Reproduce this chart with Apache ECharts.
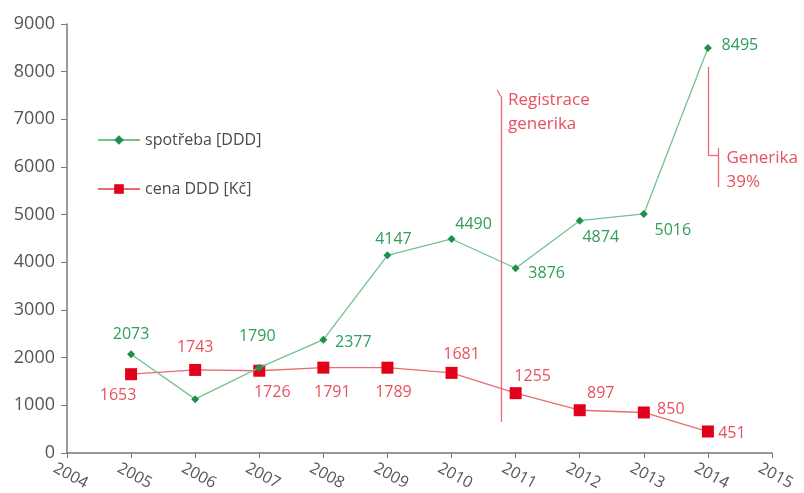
<!DOCTYPE html>
<html>
<head>
<meta charset="utf-8">
<script src="https://cdn.jsdelivr.net/npm/echarts@6/dist/echarts.min.js"></script>
<style>
  html, body { margin: 0; padding: 0; background: #fff; }
  #chart { width: 804px; height: 493px; }
</style>
</head>
<body>
<div id="chart"></div>
<script>
// roky a hodnoty
const years = [2005, 2006, 2007, 2008, 2009, 2010, 2011, 2012, 2013, 2014];
const spotreba = [2073, 1130, 1790, 2377, 4147, 4490, 3876, 4874, 5016, 8495];
const cena = [1653, 1743, 1726, 1791, 1789, 1681, 1255, 897, 850, 451];
// popisky u bodů (null = bez popisku)
const spotrebaLabels = ["2073", null, "1790", "2377", "4147", "4490", "3876", "4874", "5016", "8495"];
const cenaLabels = ["1653", "1743", "1726", "1791", "1789", "1681", "1255", "897", "850", "451"];

// posun popisků [dx, dy] od bodu
const greenOffsets = [[0, -20], [0, 0], [-2, -31], [30, 3], [6, -16], [22, -15], [31, 5], [21, 17], [29, 17], [32, -3]];
const redOffsets = [[-13, 21], [0, -22], [13, 22], [9, 25], [6, 25], [10, -18], [17, -17], [21, -17], [27, -3], [24, 2]];

const GREEN = "#2f9e5a";
const GREEN_LINE = "#74c28e";
const RED = "#e2001a";
const RED_LINE = "#ea6b73";
const RED_TEXT = "#e8505e";

const myChart = echarts.init(document.getElementById("chart"));

const greenData = years.map((y, i) => ({
  value: [y, spotreba[i]],
  label: {
    show: spotrebaLabels[i] !== null,
    formatter: spotrebaLabels[i] || "",
    offset: greenOffsets[i],
  },
}));
const redData = years.map((y, i) => ({
  value: [y, cena[i]],
  label: {
    show: true,
    formatter: cenaLabels[i],
    offset: redOffsets[i],
  },
}));

const annLine = { color: RED_LINE, width: 1.3, type: "solid" };

myChart.setOption({
  animation: false,
  textStyle: { fontFamily: "Open Sans" },
  grid: { left: 67, right: 32, top: 24, bottom: 40 },
  legend: {
    orient: "vertical",
    left: 92,
    top: 127,
    itemGap: 33,
    itemWidth: 42,
    itemHeight: 12,
    textStyle: { fontSize: 16, color: "#4a4a4a", fontFamily: "Open Sans" },
    data: ["spotřeba [DDD]", "cena DDD [Kč]"],
  },
  xAxis: {
    type: "value",
    min: 2004,
    max: 2015,
    interval: 1,
    axisLine: { lineStyle: { color: "#777", width: 1.5 } },
    axisTick: { show: true, length: 5, lineStyle: { color: "#777" } },
    splitLine: { show: false },
    axisLabel: {
      color: "#555",
      fontSize: 16,
      rotate: -28,
      align: "center",
      verticalAlign: "middle",
      margin: 21,
      padding: [0, 0, 0, 8],
      formatter: (v) => String(v),
    },
  },
  yAxis: {
    type: "value",
    min: 0,
    max: 9000,
    interval: 1000,
    axisLine: { show: true, lineStyle: { color: "#777", width: 1.5 } },
    axisTick: { show: true, length: 6, lineStyle: { color: "#777" } },
    splitLine: { show: false },
    axisLabel: { color: "#555", fontSize: 18, margin: 12, formatter: (v) => String(v) },
  },
  series: [
    {
      name: "spotřeba [DDD]",
      type: "line",
      data: greenData,
      symbol: "diamond",
      symbolSize: 8,
      itemStyle: { color: "#1e8f4c" },
      lineStyle: { color: GREEN_LINE, width: 1.3 },
      label: {
        position: "inside",
        color: GREEN,
        fontSize: 16,
        fontFamily: "Open Sans",
      },
      z: 3,
    },
    {
      name: "cena DDD [Kč]",
      type: "line",
      data: redData,
      symbol: "rect",
      symbolSize: 12,
      itemStyle: { color: RED },
      lineStyle: { color: RED_LINE, width: 1.3 },
      label: {
        position: "inside",
        color: RED_TEXT,
        fontSize: 16,
        fontFamily: "Open Sans",
      },
      markLine: {
        silent: true,
        symbol: "none",
        label: { show: false },
        lineStyle: annLine,
        data: [
          // Registrace generika
          [{ coord: [2010.77, 650] }, { coord: [2010.77, 7480] }],
          [{ coord: [2010.77, 7480] }, { coord: [2010.71, 7620] }],
          // Generika 39%
          [{ coord: [2014, 8100] }, { coord: [2014, 6250] }],
          [{ coord: [2014, 6250] }, { coord: [2014.16, 6250] }],
          [{ coord: [2014.16, 6400] }, { coord: [2014.16, 5580] }],
        ],
      },
      markPoint: {
        silent: true,
        symbol: "circle",
        symbolSize: 0,
        label: {
          show: true,
          position: "right",
          distance: 0,
          color: RED_TEXT,
          fontSize: 17,
          lineHeight: 24,
          align: "left",
          fontFamily: "Open Sans",
        },
        data: [
          { coord: [2010.88, 7153], label: { formatter: "Registrace\ngenerika" } },
          { coord: [2014.29, 5937], label: { formatter: "Generika\n39%" } },
        ],
      },
      z: 2,
    },
  ],
});
</script>
</body>
</html>
